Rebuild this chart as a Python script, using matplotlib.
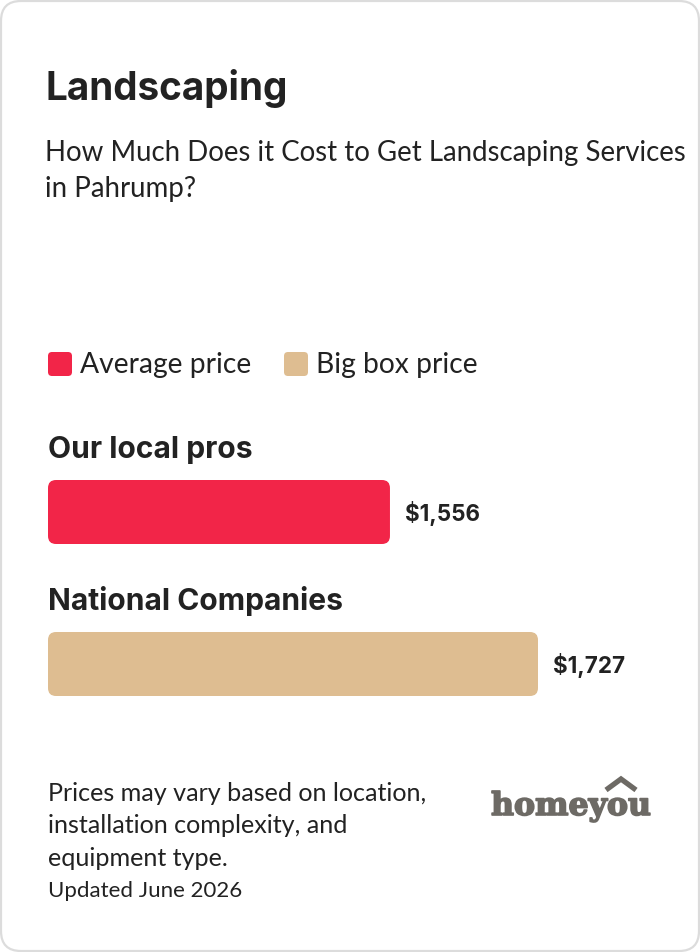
import matplotlib
matplotlib.use("Agg")
import matplotlib.pyplot as plt
import matplotlib.patheffects as pe
from matplotlib.patches import FancyBboxPatch

W, H = 700, 952
TITLE = "Landscaping"
SUBTITLE = ["How Much Does it Cost to Get Landscaping Services", "in Pahrump?"]
LEGEND = ["Average price", "Big box price"]
CATEGORIES = ["Our local pros", "National Companies"]
VALUES = [1556, 1727]
VALUE_LABELS = ["$1,556", "$1,727"]
COLORS = ["#f22548", "#debd91"]
NOTE = ["Prices may vary based on location,", "installation complexity, and", "equipment type."]
UPDATED = "Updated June 2026"
LOGO = "homeyou"
AXIS_MIN = 1161

plt.rcParams["font.family"] = ["Lato", "DejaVu Sans"]
INK = "#222222"
BOLD = ["Inter", "Lato", "DejaVu Sans"]

fig = plt.figure(figsize=(W / 100, H / 100), dpi=100, facecolor="white")
bg = fig.add_axes([0, 0, 1, 1])
bg.set_xlim(0, W)
bg.set_ylim(H, 0)
bg.axis("off")
bg.add_patch(FancyBboxPatch((1, 1), W - 2, H - 2, boxstyle="round,pad=0,rounding_size=20",
                            fc="white", ec="#dcdcdc", lw=1.6))


def txt(x, y, s, size, weight="normal", color=INK, **kw):
    return bg.text(x, y, s, fontsize=size * 0.72, fontweight=weight, color=color,
                   va="baseline", ha="left", **kw)


txt(45, 100, TITLE, 38.7, "bold", family=BOLD)
txt(45, 161, SUBTITLE[0], 27.6)
txt(45, 197, SUBTITLE[1], 27.6)

for x, tx, label, c in zip([48, 284], [80, 316], LEGEND, COLORS):
    bg.add_patch(FancyBboxPatch((x, 352), 24, 24, boxstyle="round,pad=0,rounding_size=4", fc=c, ec="none"))
    txt(tx, 373, label, 28.3)

# Bars share one value axis spanning x = 48..538 px
ax_top, bar_h = [480, 632], 64
for cat, val, lab, c, top in zip(CATEGORIES, VALUES, VALUE_LABELS, COLORS, ax_top):
    ax = fig.add_axes([48 / W, 1 - (top + bar_h) / H, 490 / W, bar_h / H])
    ax.set_xlim(AXIS_MIN, max(VALUES))
    ax.set_ylim(0, 1)
    ax.axis("off")
    ax.patch.set_alpha(0)
    bar = ax.barh(0.5, val - AXIS_MIN, left=AXIS_MIN, height=1, color=c)[0]
    # round the corners of the bar
    px = (max(VALUES) - AXIS_MIN) / 490
    clip = FancyBboxPatch((AXIS_MIN, 0), val - AXIS_MIN, 1,
                          boxstyle=f"round,pad=0,rounding_size={8 * px}",
                          mutation_aspect=(1 / bar_h) / px, transform=ax.transData,
                          fc="none", ec="none")
    ax.add_patch(clip)
    bar.set_clip_path(clip)
    txt(48, top - 22, cat, 30, "bold", family=BOLD)
    end_px = 48 + (val - AXIS_MIN) / px
    txt(end_px + 15, top + 41, lab, 22.4, "bold", family=BOLD)

for y, line in zip([801, 833, 866], NOTE):
    txt(48, y, line, 25.1)
txt(48, 897, UPDATED, 22.3)

# logo
bg.text(491, 815, LOGO, family="DejaVu Serif", fontweight="bold", fontsize=31.6 * 0.72,
        color="#6d6a65", va="baseline", ha="left",
        path_effects=[pe.withStroke(linewidth=1.2, foreground="#6d6a65")])
bg.plot([606, 621, 636], [790, 779, 790], color="#6d6a65", lw=3.8, solid_capstyle="butt",
        solid_joinstyle="miter")

fig.savefig("out.png", dpi=100)
